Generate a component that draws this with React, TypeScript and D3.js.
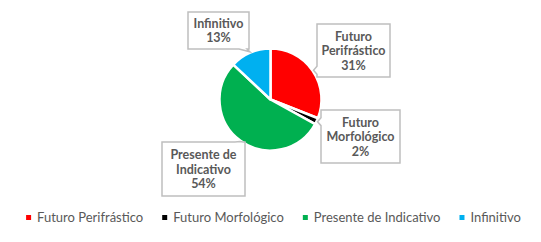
import React, { useEffect, useRef } from "react";
import * as d3 from "d3";

// chart data
const categories = ["Futuro Perifrástico", "Futuro Morfológico", "Presente de Indicativo", "Infinitivo"];
const values = [31, 2, 54, 13];
const colors = ["#FF0000", "#000000", "#00B050", "#00B0F0"];
// label text lines for the callouts
const labelLines = [
  ["Futuro", "Perifrástico", "31%"],
  ["Futuro", "Morfológico", "2%"],
  ["Presente de", "Indicativo", "54%"],
  ["Infinitivo", "13%"],
];

const W = 541;
const H = 242;
const cx = 270.5;
const cy = 99.5;
const radius = 51;
const textColor = "#595959";
const font = "Lato, 'Open Sans', sans-serif";

// callout boxes (left, top, width, height)
const boxLayout = [
  { x: 317, y: 24, w: 73, h: 53 },
  { x: 321, y: 110, w: 79, h: 53 },
  { x: 162, y: 142, w: 83, h: 54 },
  { x: 188, y: 12, w: 61, h: 37 },
];

function calloutPath(b: { x: number; y: number; w: number; h: number }, tx: number, ty: number) {
  const { x, y, w, h } = b;
  const r = x + w;
  const bt = y + h;
  const half = 4;
  const clamp = (v: number, lo: number, hi: number) => Math.max(lo, Math.min(hi, v));
  if (tx < x && ty >= y && ty <= bt + 6) {
    const m = clamp(ty, y + half + 2, bt - half - 2);
    return `M${x},${y}H${r}V${bt}H${x}V${m + half}L${tx},${ty}L${x},${m - half}Z`;
  }
  if (ty > bt) {
    const m = clamp(tx, x + half + 2, r - half - 2);
    return `M${x},${y}H${r}V${bt}H${m + half}L${tx},${ty}L${m - half},${bt}H${x}Z`;
  }
  if (ty < y) {
    const m = clamp(tx, x + half + 2, r - half - 2);
    return `M${x},${y}H${m - half}L${tx},${ty}L${m + half},${y}H${r}V${bt}H${x}Z`;
  }
  return `M${x},${y}H${r}V${bt}H${x}Z`;
}

export default function App() {
  const ref = useRef<SVGSVGElement>(null);

  useEffect(() => {
    const svg = d3.select(ref.current);
    svg.selectAll("*").remove();

    const pie = d3.pie<number>().sort(null).value((d) => d);
    const arcs = pie(values);
    const arc = d3.arc<d3.PieArcDatum<number>>().innerRadius(0).outerRadius(radius);

    const g = svg.append("g").attr("transform", `translate(${cx},${cy})`);
    g.selectAll("path")
      .data(arcs)
      .join("path")
      .attr("d", arc)
      .attr("fill", (_, i) => colors[i])
      .attr("stroke", "#fff")
      .attr("stroke-width", 2.5)
      .attr("stroke-linejoin", "round");

    // callouts
    const labels = svg.append("g");
    arcs.forEach((a, i) => {
      const mid = (a.startAngle + a.endAngle) / 2;
      const tx = cx + Math.sin(mid) * (radius + 1);
      const ty = cy - Math.cos(mid) * (radius + 1);
      const b = boxLayout[i];
      labels
        .append("path")
        .attr("d", calloutPath(b, tx, ty))
        .attr("fill", "#fff")
        .attr("stroke", "#BFBFBF")
        .attr("stroke-width", 1.5);
      const lines = labelLines[i];
      const lh = 14.5;
      const startY = b.y + b.h / 2 - ((lines.length - 1) * lh) / 2 + 4.5;
      labels
        .append("text")
        .attr("text-anchor", "middle")
        .attr("font-family", font)
        .attr("font-weight", "bold")
        .attr("font-size", 12.5)
        .attr("fill", textColor)
        .selectAll("tspan")
        .data(lines)
        .join("tspan")
        .attr("x", b.x + b.w / 2)
        .attr("y", (_, j) => startY + j * lh)
        .text((d) => d);
    });

    // legend
    const legend = svg.append("g");
    const items = categories.map((c, i) => {
      const it = legend.append("g");
      it.append("rect").attr("width", 5).attr("height", 5).attr("y", -7).attr("fill", colors[i]);
      const t = it
        .append("text")
        .attr("x", 11)
        .attr("font-family", font)
        .attr("font-size", 13)
        .attr("fill", textColor)
        .text(c);
      return { it, w: 11 + (t.node() as SVGTextElement).getComputedTextLength() };
    });
    const gap = 19;
    const total = d3.sum(items, (d) => d.w) + gap * (items.length - 1);
    let x = (W - total) / 2 + 3;
    items.forEach((d) => {
      d.it.attr("transform", `translate(${x},222)`);
      x += d.w + gap;
    });
  }, []);

  return (
    <svg ref={ref} width={W} height={H} style={{ display: "block", position: "absolute", left: 0, top: 0 }} />
  );
}
